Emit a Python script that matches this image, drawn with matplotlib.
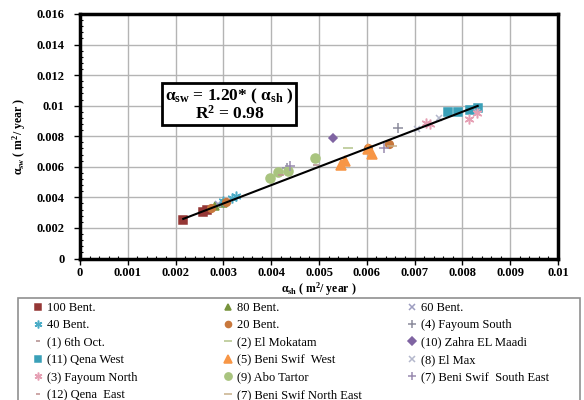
import numpy as np
import matplotlib
matplotlib.use("Agg")
import matplotlib.pyplot as plt
from matplotlib.ticker import MultipleLocator
from matplotlib.patches import Rectangle

# series data (x = alpha_sh, y = alpha_sw)
bent100_x = [0.00216, 0.00257, 0.00266]
bent100_y = [0.00249, 0.00304, 0.00315]
bent80_x = [0.00282, 0.00300]
bent80_y = [0.00341, 0.00360]
bent60_x = [0.00289, 0.00310]
bent60_y = [0.00359, 0.00375]
bent40_x = [0.00299, 0.00317, 0.00327]
bent40_y = [0.00374, 0.00396, 0.00407]
bent20_x = [0.00275, 0.00306, 0.00602, 0.00646]
bent20_y = [0.00330, 0.00367, 0.00725, 0.00751]
fayoum_s_x = [0.00433, 0.00665]
fayoum_s_y = [0.00595, 0.00852]
oct6_x = [0.00494]
oct6_y = [0.00615]
mokatam_x = [0.00560]
mokatam_y = [0.00725]
zahra_x = [0.00529]
zahra_y = [0.00791]
qena_w_x = [0.00770, 0.00790, 0.00815, 0.00832]
qena_w_y = [0.00959, 0.00960, 0.00972, 0.00983]
beni_w_x = [0.00546, 0.00555, 0.00602, 0.00610]
beni_w_y = [0.00615, 0.00640, 0.00714, 0.00681]
elmax_x = [0.00706, 0.00752, 0.00830]
elmax_y = [0.00845, 0.00922, 0.00960]
fayoum_n_x = [0.00724, 0.00732, 0.00814, 0.00830]
fayoum_n_y = [0.00889, 0.00880, 0.00916, 0.00955]
abo_x = [0.00398, 0.00414, 0.00435, 0.00491]
abo_y = [0.00528, 0.00567, 0.00571, 0.00655]
beni_se_x = [0.00440, 0.00637]
beni_se_y = [0.00608, 0.00725]
qena_e_x = [0.00421]
qena_e_y = [0.00549]
beni_ne_x = [0.00652]
beni_ne_y = [0.00735]

slope = 1.20

series = [
    ("100 Bent.", bent100_x, bent100_y, "s", "#953735", 5.5),
    ("80 Bent.", bent80_x, bent80_y, "^", "#77933c", 5.5),
    ("60 Bent.", bent60_x, bent60_y, "x", "#9d9dc0", 5),
    ("40 Bent.", bent40_x, bent40_y, (6, 2, 0), "#4bacc6", 7),
    ("20 Bent.", bent20_x, bent20_y, "o", "#c8783c", 5.5),
    ("(4) Fayoum South", fayoum_s_x, fayoum_s_y, "+", "#8c8c9c", 7),
    ("(1) 6th Oct.", oct6_x, oct6_y, "_", "#b08c8c", 4),
    ("(2) El Mokatam", mokatam_x, mokatam_y, "_", "#b3c38a", 7),
    ("(10) Zahra EL Maadi", zahra_x, zahra_y, "D", "#7f64a2", 4.5),
    ("(11) Qena West", qena_w_x, qena_w_y, "s", "#3aa0b8", 6),
    ("(5) Beni Swif  West", beni_w_x, beni_w_y, "^", "#f79646", 6.5),
    ("(8) El Max", elmax_x, elmax_y, "x", "#b4b8cc", 5),
    ("(3) Fayoum North", fayoum_n_x, fayoum_n_y, (6, 2, 0), "#e6a0b4", 7),
    ("(9) Abo Tartor", abo_x, abo_y, "o", "#a9c47f", 6.5),
    ("(7) Beni Swif  South East", beni_se_x, beni_se_y, "+", "#9a8cb0", 7),
    ("(12) Qena  East", qena_e_x, qena_e_y, "_", "#c09090", 4),
    ("(7) Beni Swif North East", beni_ne_x, beni_ne_y, "_", "#c8b08a", 7),
]

plt.rcParams['font.family'] = ['Liberation Serif', 'DejaVu Serif']
plt.rcParams['mathtext.fontset'] = 'custom'
plt.rcParams['mathtext.rm'] = 'Liberation Serif:bold'
plt.rcParams['mathtext.it'] = 'Liberation Serif:bold'
plt.rcParams['mathtext.bf'] = 'Liberation Serif:bold'

fig = plt.figure(figsize=(5.84, 4.0), dpi=100)

# legend: three equal-width columns read row by row, inside one grey frame
fig.patches.append(Rectangle((18/584, -0.05), 562/584, 1-298/400+0.05,
                             transform=fig.transFigure, fc="white", ec="#909090", lw=1.2))

ax = fig.add_axes([80/584, 1-258.5/400, 478/584, 244.5/400])

handles = []
for name, xs, ys, mk, col, ms in series:
    h, = ax.plot(xs, ys, linestyle="none", marker=mk, color=col, markersize=ms,
                 markeredgewidth=1.1, label=name, zorder=3)
    handles.append(h)

all_x = np.concatenate([s[1] for s in series])
lx = np.array([all_x.min(), all_x.max()])
ax.plot(lx, slope*lx, color="black", lw=1.5, zorder=4)

ax.set_xlim(0, 0.01)
ax.set_ylim(0, 0.016)
ax.xaxis.set_major_locator(MultipleLocator(0.001))
ax.yaxis.set_major_locator(MultipleLocator(0.002))
ax.xaxis.set_minor_locator(MultipleLocator(0.0002))
ax.yaxis.set_minor_locator(MultipleLocator(0.0004))
fmt = plt.FuncFormatter(lambda v, p: ("%.3f" % v).rstrip("0").rstrip(".") if v else "0")
ax.xaxis.set_major_formatter(fmt)
ax.yaxis.set_major_formatter(fmt)
ax.grid(True, which="major", color="#b4b4b4", lw=1)
ax.set_axisbelow(True)
ax.tick_params(which="major", direction="out", length=4, width=1, labelsize=9)
ax.tick_params(axis="y", which="major", pad=7)
ax.tick_params(axis="x", which="major", pad=2)
ax.tick_params(which="minor", direction="in", length=2, width=0.8)
for lab in ax.get_xticklabels() + ax.get_yticklabels():
    lab.set_fontweight("bold")
for sp in ax.spines.values():
    sp.set_linewidth(2.5)

ax.set_xlabel(r"$\alpha_{\rm sh}$ ( m$^{2}$/ year )", fontsize=8.5, fontweight="bold", labelpad=1)
ax.set_ylabel(r"$\alpha_{\rm sw}$ ( m$^{2}$/ year )", fontsize=8.5, fontweight="bold", labelpad=6)

ax.text(0.00178, 0.01005, r"$\alpha_{\rm sw}$ = 1.20* ( $\alpha_{\rm sh}$ )" + "\n" + r"R$^{2}$ = 0.98",
        fontsize=12.5, fontweight="bold", ha="left", va="center", linespacing=0.88,
        multialignment="center",
        bbox=dict(boxstyle="square,pad=0.15", fc="white", ec="black", lw=2), zorder=5)

col_x = [33, 223, 407]
for c in range(3):
    idx = list(range(c, len(series), 3))
    fig.legend([handles[i] for i in idx], [series[i][0] for i in idx],
               loc="upper left", bbox_to_anchor=(col_x[c]/584, 1-302/400),
               ncol=1, fontsize=9, frameon=False, handlelength=0.8, handletextpad=0.3,
               labelspacing=0.43, borderpad=0, borderaxespad=0, markerscale=0.8)

fig.savefig("out.png", dpi=100)
